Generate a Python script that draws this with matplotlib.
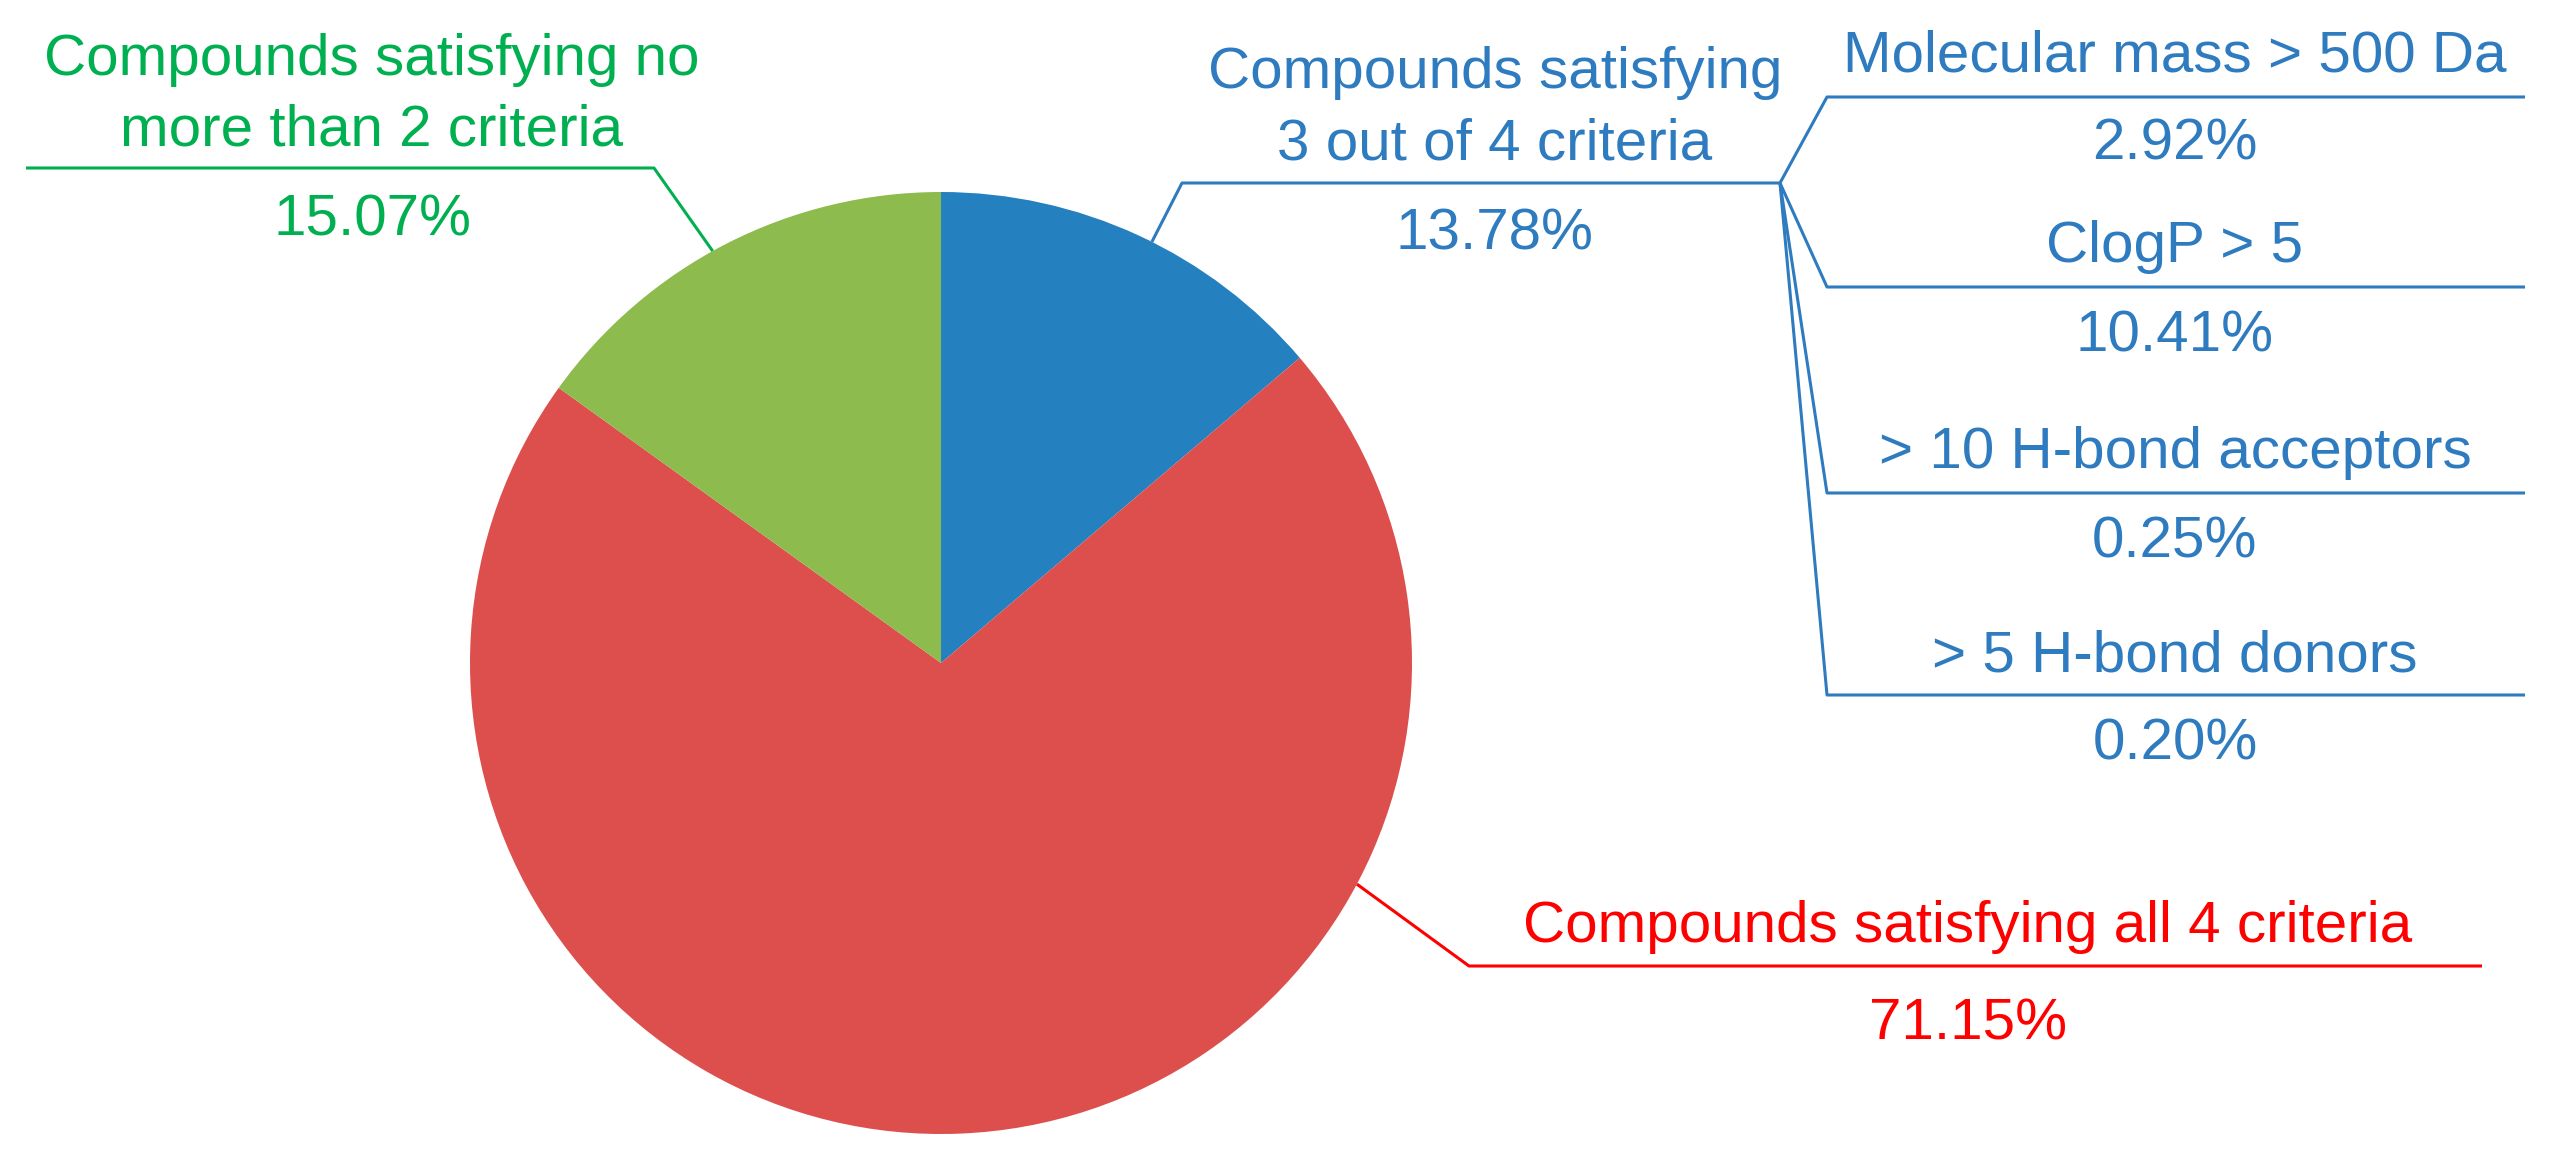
import numpy as np
import matplotlib
matplotlib.use("Agg")
import matplotlib.pyplot as plt

plt.rcParams['font.family'] = ['Liberation Sans', 'DejaVu Sans']

# main pie
groups = ['Compounds satisfying\n3 out of 4 criteria',
          'Compounds satisfying all 4 criteria',
          'Compounds satisfying no\nmore than 2 criteria']
shares = [13.78, 71.15, 15.07]
wedge_colors = ['#2580BF', '#DC4F4D', '#8DBB4E']
text_colors = ['#2E7BBF', '#FF0000', '#00B050']

# breakdown of the 3-out-of-4 group
violations = ['Molecular mass > 500 Da', 'ClogP > 5',
              '> 10 H-bond acceptors', '> 5 H-bond donors']
violation_shares = [2.92, 10.41, 0.25, 0.20]

W, H = 2565, 1163
CX, CY, R = 941, 663, 471
FS = 42


def Y(y):
    # pixel row (from top) -> data y
    return H - y


def pct(v):
    return '%.2f%%' % v


def pie_point(angle):
    a = np.radians(angle)
    return CX + R * np.cos(a), CY - R * np.sin(a)


def label(ax, lines, x, baselines, color):
    for txt, b in zip(lines, baselines):
        ax.text(x, Y(b), txt, color=color, fontsize=FS, ha='center', va='baseline')


def leader(ax, pts, color):
    xs = [p[0] for p in pts]
    ys = [Y(p[1]) for p in pts]
    ax.plot(xs, ys, color=color, lw=2.2, solid_capstyle='butt')


fig = plt.figure(figsize=(W / 100, H / 100), dpi=100)
ax = fig.add_axes([0, 0, 1, 1])
ax.set_xlim(0, W)
ax.set_ylim(0, H)
ax.set_aspect('equal')
ax.axis('off')

ax.pie(shares, colors=wedge_colors, startangle=90, counterclock=False,
       center=(CX, Y(CY)), radius=R, frame=True)
ax.set_xlim(0, W)
ax.set_ylim(0, H)
ax.axis('off')

# label layout: anchor angle on pie, elbow, end of line, text x, text baselines, pct baseline
layout = [
    (63.4, (1182, 183), 1780, 1495, [88, 159], 250),
    (-28.0, (1469, 966), 2482, 1968, [942], 1040),
    (119.0, (654, 168), 26, 372, [75, 145], 235),
]

for i in range(len(groups)):
    ang, elbow, xend, tx, bl, pb = layout[i]
    c = text_colors[i]
    leader(ax, [pie_point(ang), elbow, (xend, elbow[1])], c)
    label(ax, groups[i].split('\n'), tx, bl, c)
    label(ax, [pct(shares[i])], tx, [pb], c)

# bracket for the breakdown
origin = (1780, 183)
line_y = [97, 287, 493, 695]
name_b = [72, 262, 468, 672]
pct_b = [160, 352, 557, 760]
blue = text_colors[0]
for i in range(len(violations)):
    leader(ax, [origin, (1827, line_y[i]), (2525, line_y[i])], blue)
    label(ax, [violations[i]], 2175, [name_b[i]], blue)
    label(ax, [pct(violation_shares[i])], 2175, [pct_b[i]], blue)

fig.savefig('out.png', dpi=100, facecolor='white')
